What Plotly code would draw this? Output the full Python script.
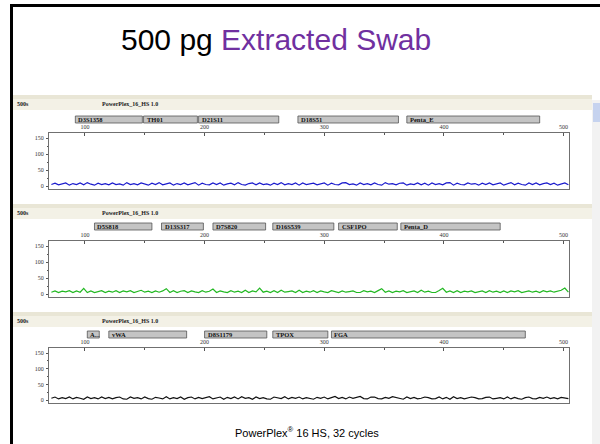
import plotly.graph_objects as go

# ---------------- data ----------------
size_start = 72      # bp of first sample
size_step = 3        # bp between samples

blue_rfu = [
    5, 9, 4, 8, 10, 3, 8, 5, 10, 4, 11, 6, 3, 9, 5,
    8, 4, 10, 5, 7, 3, 11, 5, 8, 4, 10, 6, 3, 9, 5,
    11, 4, 7, 10, 3, 8, 5, 10, 4, 7, 11, 3, 9, 5, 4,
    10, 5, 10, 3, 7, 9, 4, 11, 5, 3, 8, 10, 4, 10, 5,
    7, 3, 9, 5, 11, 4, 8, 5, 10, 3, 10, 5, 7, 9, 4,
    8, 10, 3, 9, 5, 4, 10, 11, 5, 7, 3, 10, 5, 8, 4,
    10, 5, 3, 11, 6, 8, 4, 9, 10, 3, 7, 5, 10, 4, 9,
    3, 10, 5, 8, 4, 10, 11, 3, 9, 5, 4, 10, 6, 8, 3,
    9, 5, 10, 4, 7, 10, 3, 8, 11, 4, 9, 5, 3, 10, 5,
    10, 4, 8, 10, 5, 9, 3, 7, 10, 4,
]

green_rfu = [
    6, 10, 5, 9, 7, 11, 5, 10, 6, 18, 5, 10, 5, 8, 11,
    5, 9, 6, 11, 5, 10, 7, 11, 5, 8, 12, 6, 9, 5, 10,
    6, 10, 17, 5, 11, 5, 9, 11, 5, 10, 7, 5, 11, 6, 9,
    16, 5, 10, 7, 5, 11, 6, 9, 5, 12, 5, 10, 7, 19, 6,
    9, 5, 11, 5, 12, 6, 8, 10, 5, 12, 5, 9, 6, 11, 5,
    10, 7, 5, 11, 9, 5, 10, 6, 8, 10, 5, 5, 11, 7, 9,
    5, 11, 17, 6, 10, 5, 9, 7, 11, 5, 8, 10, 5, 12, 6,
    9, 5, 5, 11, 18, 6, 10, 5, 11, 5, 9, 7, 10, 5, 8,
    10, 5, 11, 6, 9, 5, 10, 5, 10, 7, 11, 5, 8, 10, 6,
    9, 5, 11, 7, 10, 6, 9, 12, 19, 6,
]

black_rfu = [
    6, 10, 4, 8, 5, 10, 4, 9, 6, 3, 10, 5, 8, 4, 10,
    5, 9, 4, 8, 10, 4, 3, 10, 6, 8, 4, 10, 5, 3, 9,
    7, 4, 11, 4, 8, 5, 10, 3, 8, 10, 4, 9, 5, 8, 11,
    4, 7, 10, 3, 9, 5, 10, 4, 11, 6, 8, 3, 10, 5, 8,
    4, 3, 10, 8, 5, 11, 4, 9, 6, 10, 4, 8, 5, 3, 9,
    6, 10, 4, 8, 12, 5, 9, 4, 10, 6, 8, 12, 5, 4, 10,
    10, 5, 4, 9, 6, 11, 8, 4, 3, 10, 5, 9, 4, 6, 10,
    8, 4, 5, 10, 4, 9, 3, 11, 5, 8, 4, 6, 10, 8, 4,
    5, 9, 10, 4, 6, 8, 4, 10, 4, 9, 5, 3, 8, 10, 5,
    4, 9, 6, 10, 5, 8, 4, 9, 6, 5,
]

blue_loci = ["D3S1358", "TH01", "D21S11", "D18S51", "Penta_E"]
blue_start = [92, 149, 195, 278, 369]
blue_end = [148, 194, 262, 362, 480]

green_loci = ["D5S818", "D13S317", "D7S820", "D16S539", "CSF1PO", "Penta_D"]
green_start = [108, 164, 207, 257, 312, 364]
green_end = [156, 199, 251, 308, 361, 447]

black_loci = ["A...", "vWA", "D8S1179", "TPOX", "FGA"]
black_start = [102, 120, 200, 257, 306]
black_end = [112, 185, 252, 303, 468]

size_ticks = [100, 200, 300, 400, 500]
rfu_ticks = [0, 50, 100, 150]

title_left = "500 pg"
title_right = "Extracted Swab"
caption = "PowerPlex<sup>®</sup> 16 HS, 32 cycles"
panel_label = "PowerPlex_16_HS 1.0"
sample_label = "500s"

# ---------------- layout helpers ----------------
W, H = 600, 444


def py(p):
    return 1 - p / H


def px(p):
    return p / W


panels = [
    # (trace, color, loci, starts, ends, header_top, marker_top, plot_top, plot_bottom)
    (blue_rfu, "#1a1acc", blue_loci, blue_start, blue_end, 95, 116, 133, 189),
    (green_rfu, "#22b822", green_loci, green_start, green_end, 204, 223, 241, 297),
    (black_rfu, "#111111", black_loci, black_start, black_end, 312, 331, 348, 403),
]

fig = go.Figure()
shapes = []
annotations = []
layout_axes = {}

font_tick = dict(family="Liberation Serif", size=6, color="#333333")
font_box = dict(family="Liberation Serif", size=6.5, color="#111111")

for k, (rfu, color, loci, starts, ends, htop, mtop, ptop, pbot) in enumerate(panels):
    idx = "" if k == 0 else str(k + 1)
    xs = [size_start + size_step * i for i in range(len(rfu))]
    fig.add_trace(go.Scatter(
        x=xs, y=rfu, mode="lines",
        line=dict(color=color, width=1.2),
        xaxis="x" + idx, yaxis="y" + idx, showlegend=False,
        hoverinfo="skip",
    ))
    layout_axes["xaxis" + idx] = dict(
        domain=[px(49), px(569)], range=[70, 504.5], side="top",
        anchor="y" + idx, showgrid=False, zeroline=False,
        showline=True, linecolor="#707070", linewidth=1, mirror=True,
        tickmode="array", tickvals=size_ticks, ticks="inside", ticklen=3,
        tickcolor="#555555", tickwidth=1,
        minor=dict(tickvals=[150, 250, 350, 450], ticks="inside", ticklen=2,
                   tickcolor="#555555"),
        tickfont=font_tick, ticklabelstandoff=1,
    )
    layout_axes["yaxis" + idx] = dict(
        domain=[py(pbot), py(ptop)], range=[-9, 166],
        anchor="x" + idx, showgrid=False, zeroline=False,
        showline=True, linecolor="#707070", linewidth=1, mirror=True,
        tickmode="array", tickvals=rfu_ticks, ticks="outside", ticklen=2,
        tickcolor="#555555",
        minor=dict(tickvals=[25, 75, 125], ticks="outside", ticklen=1,
                   tickcolor="#555555"),
        tickfont=font_tick, ticklabelstandoff=1,
    )
    # header band
    shapes.append(dict(type="rect", xref="paper", yref="paper",
                       x0=px(13), x1=px(592), y0=py(htop + 4), y1=py(htop),
                       fillcolor="#e9e6d6", line=dict(width=0), layer="below"))
    shapes.append(dict(type="rect", xref="paper", yref="paper",
                       x0=px(13), x1=px(592), y0=py(htop + 15), y1=py(htop + 4),
                       fillcolor="#f3f1e6", line=dict(width=0), layer="below"))
    annotations.append(dict(text="<b>" + sample_label + "</b>", xref="paper", yref="paper",
                            x=px(15), y=py(htop + 9), xanchor="left", yanchor="middle",
                            showarrow=False, font=dict(family="Liberation Serif", size=6, color="#222")))
    annotations.append(dict(text="<b>" + panel_label + "</b>", xref="paper", yref="paper",
                            x=px(100), y=py(htop + 9), xanchor="left", yanchor="middle",
                            showarrow=False, font=dict(family="Liberation Serif", size=6, color="#222")))
    # marker boxes
    for name, s, e in zip(loci, starts, ends):
        shapes.append(dict(type="rect", xref="x" + idx, yref="paper",
                           x0=s, x1=e, y0=py(mtop + 7), y1=py(mtop),
                           fillcolor="#c4c4c4", line=dict(color="#555555", width=0.8)))
        annotations.append(dict(text="<b>" + name + "</b>", xref="x" + idx, yref="paper",
                                x=s, y=py(mtop + 3.5), xanchor="left", yanchor="middle",
                                xshift=1, showarrow=False, font=font_box))

# slide border
shapes.append(dict(type="line", xref="paper", yref="paper", x0=px(11.5), x1=px(11.5),
                   y0=py(5), y1=0, line=dict(color="black", width=3)))
shapes.append(dict(type="line", xref="paper", yref="paper", x0=px(10), x1=1,
                   y0=py(5.5), y1=py(5.5), line=dict(color="black", width=3)))
# scrollbar
shapes.append(dict(type="rect", xref="paper", yref="paper", x0=px(592), x1=1,
                   y0=0, y1=py(100), fillcolor="#f2f2f2", line=dict(width=0), layer="below"))
shapes.append(dict(type="rect", xref="paper", yref="paper", x0=px(593), x1=1,
                   y0=py(122), y1=py(103), fillcolor="#c6d3ef", line=dict(width=0)))

annotations.append(dict(
    text=title_left + " <span style='color:#7030a0'>" + title_right + "</span>",
    xref="paper", yref="paper", x=px(276), y=py(40), xanchor="center", yanchor="middle",
    showarrow=False, font=dict(family="Liberation Sans", size=30, color="black")))
annotations.append(dict(
    text=caption, xref="paper", yref="paper", x=px(307), y=py(432),
    xanchor="center", yanchor="middle", showarrow=False,
    font=dict(family="Liberation Sans", size=11, color="black")))

fig.update_layout(
    width=W, height=H, margin=dict(l=0, r=0, t=0, b=0),
    paper_bgcolor="white", plot_bgcolor="white",
    shapes=shapes, annotations=annotations, showlegend=False,
    **layout_axes,
)

fig.write_html(
    "out.html",
    config={"displayModeBar": False},
    post_script="document.body.style.margin='0';document.body.style.overflow='hidden';",
)
